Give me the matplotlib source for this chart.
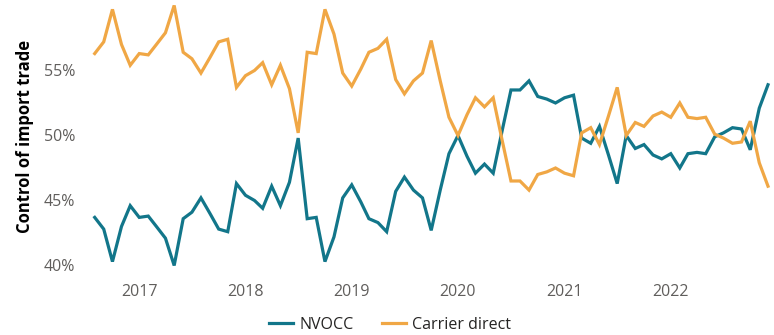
import matplotlib
matplotlib.use("Agg")
import matplotlib.pyplot as plt
import pandas as pd

# Monthly share of import trade controlled by each party (%)
months = pd.date_range("2016-08-01", periods=77, freq="MS")

nvocc = [
    43.7, 42.8, 40.3, 43.0, 44.6, 43.7, 43.8, 43.0, 42.1, 40.0,
    43.6, 44.1, 45.2, 44.0, 42.8, 42.6, 46.3, 45.4, 45.0, 44.4,
    46.1, 44.6, 46.4, 49.8, 43.6, 43.7, 40.3, 42.2, 45.2, 46.2,
    44.9, 43.6, 43.3, 42.6, 45.7, 46.8, 45.8, 45.2, 42.7, 45.8,
    48.6, 50.0, 48.4, 47.1, 47.8, 47.1, 50.4, 53.5, 53.5, 54.2,
    53.0, 52.8, 52.5, 52.9, 53.1, 49.8, 49.4, 50.7, 48.5, 46.3,
    50.0, 49.0, 49.3, 48.5, 48.2, 48.6, 47.5, 48.6, 48.7, 48.6,
    49.9, 50.2, 50.6, 50.5, 48.9, 52.1, 53.9,
]

carrier_direct = [
    56.3, 57.2, 59.7, 57.0, 55.4, 56.3, 56.2, 57.0, 57.9, 60.0,
    56.4, 55.9, 54.8, 56.0, 57.2, 57.4, 53.7, 54.6, 55.0, 55.6,
    53.9, 55.4, 53.6, 50.2, 56.4, 56.3, 59.7, 57.8, 54.8, 53.8,
    55.1, 56.4, 56.7, 57.4, 54.3, 53.2, 54.2, 54.8, 57.3, 54.2,
    51.4, 50.0, 51.6, 52.9, 52.2, 52.9, 49.6, 46.5, 46.5, 45.8,
    47.0, 47.2, 47.5, 47.1, 46.9, 50.2, 50.6, 49.3, 51.5, 53.7,
    50.0, 51.0, 50.7, 51.5, 51.8, 51.4, 52.5, 51.4, 51.3, 51.4,
    50.1, 49.8, 49.4, 49.5, 51.1, 47.9, 46.1,
]

year_ticks = ["2017", "2018", "2019", "2020", "2021", "2022"]
y_ticks = [40, 45, 50, 55]

NVOCC_COLOR = "#12768A"
CARRIER_COLOR = "#F0A745"
TEXT_GRAY = "#605E5C"

plt.rcParams["font.family"] = ["Open Sans", "DejaVu Sans"]

W, H = 774, 335
fig = plt.figure(figsize=(W / 100, H / 100), dpi=100)
left_px, right_px = 94.7, 768.0
bottom_px = 63.0
ax = fig.add_axes([left_px / W, bottom_px / H, (right_px - left_px) / W, (H - bottom_px) / H])

ax.plot(months, nvocc, color=NVOCC_COLOR, lw=2.3, label="NVOCC",
        solid_joinstyle="miter", clip_on=False)
ax.plot(months, carrier_direct, color=CARRIER_COLOR, lw=2.3, label="Carrier direct",
        solid_joinstyle="miter", clip_on=False)

ax.set_xlim(months[0], months[-1])
ax.set_ylim(39.5, 60.42)

ax.set_yticks(y_ticks)
ax.set_yticklabels([f"{v}%" for v in y_ticks])
ax.set_xticks([pd.Timestamp(f"{y}-01-01") for y in year_ticks])
ax.set_xticklabels(year_ticks)

ax.tick_params(axis="both", length=0, labelsize=11.5, colors=TEXT_GRAY)
ax.tick_params(axis="x", pad=9)
ax.tick_params(axis="y", pad=14)

for s in ax.spines.values():
    s.set_visible(False)

ax.set_ylabel("Control of import trade", fontsize=12, fontweight="bold",
              color="#000000")
ax.yaxis.set_label_coords(-0.0905, 0.5)

fig.legend(handles=ax.get_lines(), loc="center", bbox_to_anchor=(390 / W, 1 - 325 / H),
           ncol=2, frameon=False, fontsize=11.5, handlelength=1.5, handletextpad=0.4,
           columnspacing=1.8, labelcolor="#252423")

fig.savefig("out.png", dpi=100)
